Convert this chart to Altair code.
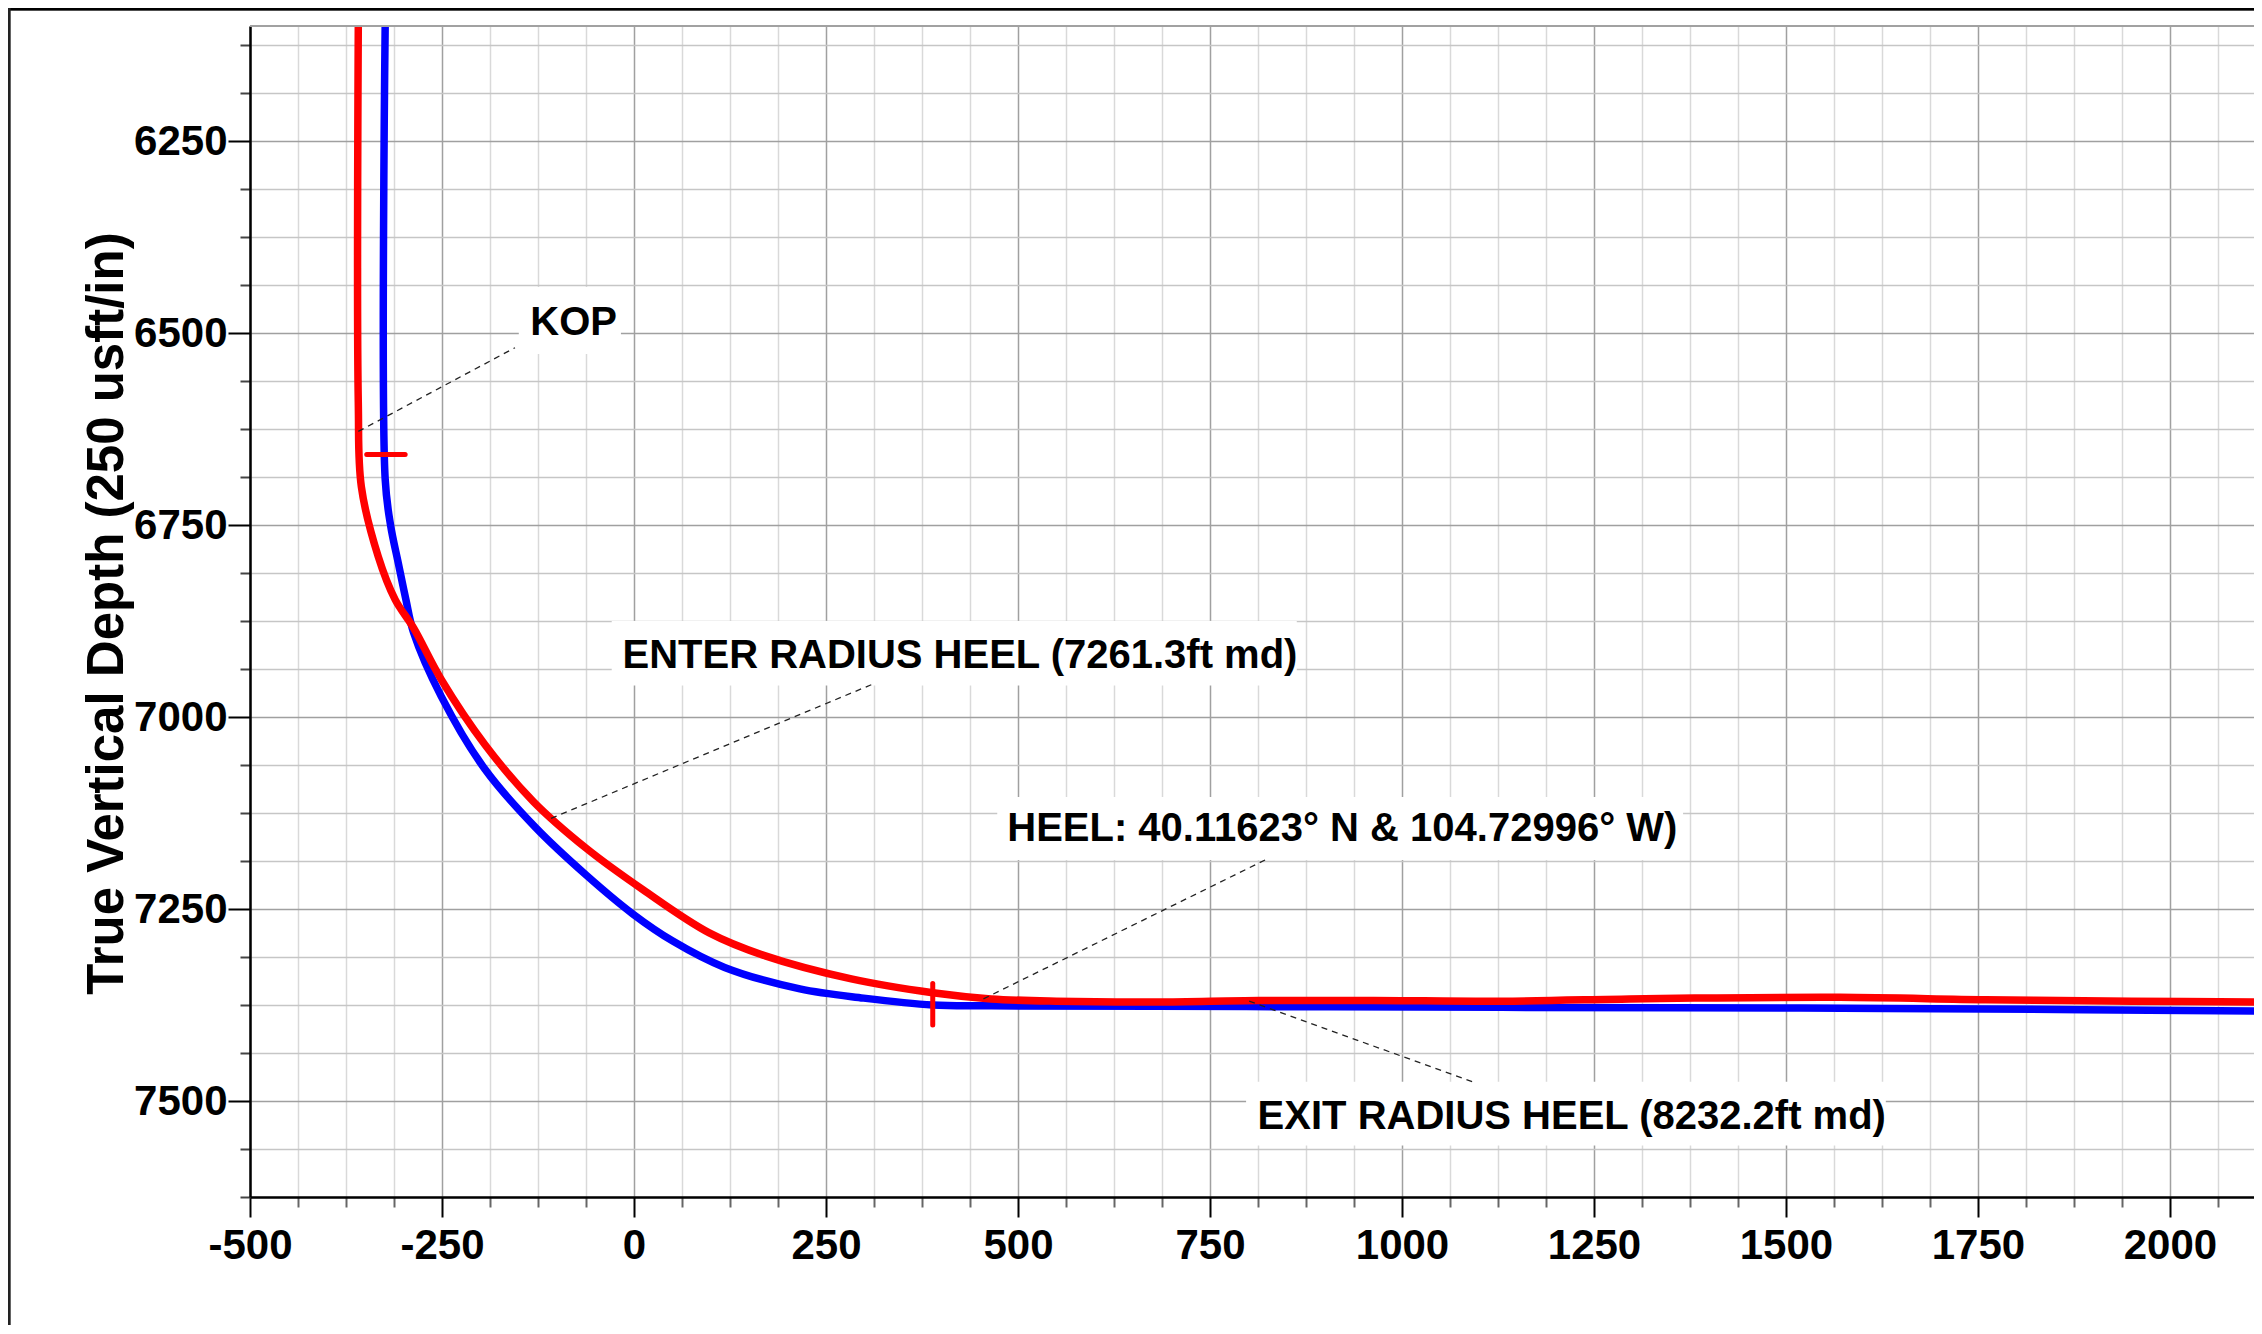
import altair as alt
import pandas as pd

FONT = "Liberation Sans"

# ---- well paths (vertical section, TVD) ----
red_x = [-359, -359, -355, -333, -311, -287, -251, -194, -131, -62, 12, 98, 171, 283, 389,
         465, 550, 681, 814, 963, 1130, 1296, 1381, 1570, 1760, 1950, 2120]
red_y = [6100, 6590, 6700, 6791, 6847, 6884, 6951, 7036, 7110, 7171, 7225, 7281, 7311, 7341, 7359,
         7367, 7370, 7371, 7369, 7369, 7370, 7367, 7366, 7365, 7368, 7370, 7371]

blue_x = [-324, -324, -317, -307, -297, -287, -251, -194, -128, -62, -2, 51, 118, 216, 299, 389,
          465, 797, 1130, 1518, 1887, 2120]
blue_y = [6100, 6690, 6750, 6799, 6847, 6890, 6973, 7068, 7144, 7206, 7256, 7292, 7326, 7354, 7366, 7375,
          7376, 7377, 7378, 7379, 7381, 7383]

# ---- red target ticks ----
tick_x = [-348, 389]
tick_x2 = [-298, 389]
tick_y = [6658, 7347]
tick_y2 = [6658, 7401]

# ---- annotations ----
labels = ["KOP",
          "ENTER RADIUS HEEL (7261.3ft md)",
          "HEEL: 40.11623° N & 104.72996° W)",
          "EXIT RADIUS HEEL (8232.2ft md)"]
label_x = [-135, -15, 486, 812]
label_y = [6502, 6936, 7162, 7536]
box_x = [-150, -29, 473, 797]
box_x2 = [-17, 863, 1366, 1630]
box_y = [6440, 6875, 7104, 7475]
box_y2 = [6527, 6959, 7186, 7558]
lead_x = [-359, -108, 455, 801]
lead_y = [6628, 7132, 7367, 7370]
lead_x2 = [-155, 311, 822, 1092]
lead_y2 = [6519, 6957, 7186, 7475]

# ---- axes ----
x_min, x_max = -500, 2109.4
y_min, y_max = 6100, 7625
x_vals = [-500 + 62.5 * i for i in range(42)]
y_vals = [6125 + 62.5 * i for i in range(25)]

W, H = 2004, 1171
BOTTOM = 128

paths = pd.DataFrame(
    [{"x": a, "y": b, "i": k, "s": "plan"} for k, (a, b) in enumerate(zip(blue_x, blue_y))]
    + [{"x": a, "y": b, "i": k, "s": "actual"} for k, (a, b) in enumerate(zip(red_x, red_y))]
)
ticks = pd.DataFrame({"x": tick_x, "x2": tick_x2, "y": tick_y, "y2": tick_y2})
ann = pd.DataFrame({"t": labels, "lx": label_x, "ly": label_y,
                    "bx": box_x, "bx2": box_x2, "by": box_y, "by2": box_y2,
                    "ax": lead_x, "ay": lead_y, "ax2": lead_x2, "ay2": lead_y2})

major = "datum.value % 250 === 0"
xscale = alt.Scale(domain=[x_min, x_max], nice=False, zero=False)
yscale = alt.Scale(domain=[y_min, y_max], nice=False, zero=False, reverse=True)

x_axis = alt.Axis(
    values=x_vals, title=None,
    labelExpr=f"{major} ? '' + datum.value : ''",
    labelFont=FONT, labelFontSize=42, labelFontWeight="bold", labelColor="black",
    labelBaseline="top", labelAlign="center", labelPadding=8,
    labelOverlap=False, labelFlush=False,
    tickSize={"condition": {"test": major, "value": 20}, "value": 10},
    tickColor={"condition": {"test": major, "value": "black"}, "value": "#666666"},
    tickWidth=2,
    domainColor="black", domainWidth=2.5,
    gridColor={"condition": {"test": major, "value": "#a0a0a0"}, "value": "#d9d9d9"},
    gridWidth=1.5,
)
y_axis = alt.Axis(
    values=y_vals, title="True Vertical Depth (250 usft/in)",
    labelExpr=f"{major} ? '' + datum.value : ''",
    labelFont=FONT, labelFontSize=42, labelFontWeight="bold", labelColor="black",
    labelBaseline="middle", labelAlign="right", labelPadding=1,
    labelOverlap=False, labelFlush=False,
    tickSize={"condition": {"test": major, "value": 22}, "value": 10},
    tickColor={"condition": {"test": major, "value": "black"}, "value": "#444444"},
    tickWidth=2,
    domainColor="black", domainWidth=2.5,
    gridColor={"condition": {"test": major, "value": "#a0a0a0"}, "value": "#c6c6c6"},
    gridWidth=1.5,
    titleFont=FONT, titleFontSize=51, titleFontWeight="bold", titleColor="black",
    titleAngle=270, titleAlign="center", titleBaseline="alphabetic",
    titleX=-128, titleY=587,
)

base_paths = alt.Chart(paths)

blue = base_paths.transform_filter(alt.datum.s == "plan").mark_line(
    color="#0000ff", strokeWidth=7.5, strokeCap="round", strokeJoin="round",
    interpolate="catmull-rom", clip=True
).encode(
    x=alt.X("x:Q", scale=xscale, axis=x_axis),
    y=alt.Y("y:Q", scale=yscale, axis=y_axis),
    order="i:Q",
)
red = base_paths.transform_filter(alt.datum.s == "actual").mark_line(
    color="#ff0000", strokeWidth=7.5, strokeCap="round", strokeJoin="round",
    interpolate="catmull-rom", clip=True
).encode(x="x:Q", y="y:Q", order="i:Q")

tick_marks = alt.Chart(ticks).mark_rule(color="#ff0000", strokeWidth=5, strokeCap="round").encode(
    x="x:Q", x2="x2:Q", y="y:Q", y2="y2:Q")

boxes = alt.Chart(ann).mark_rect(color="white").encode(
    x="bx:Q", x2="bx2:Q", y="by:Q", y2="by2:Q")
leaders = alt.Chart(ann).mark_rule(color="#222222", strokeWidth=1.3, strokeDash=[6, 5]).encode(
    x="ax:Q", x2="ax2:Q", y="ay:Q", y2="ay2:Q")
texts = alt.Chart(ann).mark_text(
    align="left", baseline="alphabetic", font=FONT, fontSize=40, fontWeight="bold", color="black"
).encode(x="lx:Q", y="ly:Q", text="t:N")

top_border = alt.Chart(ann).mark_rule(color="#a0a0a0", strokeWidth=1.5).encode(
    x=alt.value(0), x2=alt.value(W), y=alt.value(0))
frame_top = alt.Chart(ann).mark_rule(color="black", strokeWidth=2.5).encode(
    x=alt.value(-242), x2=alt.value(W), y=alt.value(-17))
frame_left = alt.Chart(ann).mark_rule(color="#222222", strokeWidth=2.5).encode(
    x=alt.value(-241), y=alt.value(-18), y2=alt.value(H + BOTTOM))

chart = alt.layer(
    blue, boxes, red, tick_marks, leaders, texts, top_border, frame_top, frame_left
).properties(
    width=W, height=H,
    autosize=alt.AutoSizeParams(type="none"),
    padding={"left": 242, "top": 18, "right": 0, "bottom": BOTTOM},
    background="white",
).configure_view(stroke=None)

chart.save("out.html", embed_options={"renderer": "svg", "actions": False})
